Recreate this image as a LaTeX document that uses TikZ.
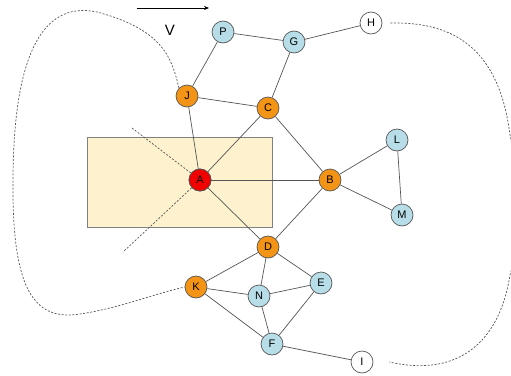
\documentclass[tikz,border=0pt]{standalone}
\usepackage{fontspec}
\setmainfont{Liberation Sans}
\usetikzlibrary{arrows.meta}
\definecolor{orng}{HTML}{F39417}
\definecolor{lblue}{HTML}{B7DEE8}
\definecolor{rred}{HTML}{F00000}
\definecolor{boxfill}{HTML}{FDF2CD}
\definecolor{edgec}{HTML}{555555}
\tikzset{
  vtx/.style={circle, draw=edgec, line width=0.7pt, minimum size=22pt, inner sep=0pt, font=\fontsize{11}{12}\selectfont},
  ora/.style={vtx, fill=orng},
  blu/.style={vtx, fill=lblue},
  red/.style={vtx, fill=rred},
  wht/.style={vtx, fill=white},
  edge/.style={draw=edgec, line width=0.7pt},
  dots/.style={draw=edgec, line width=0.7pt, dash pattern=on 2pt off 1.6pt},
}
\begin{document}
\begin{tikzpicture}[x=1pt, y=-1pt]
\useasboundingbox (0,0) rectangle (511,375);
\clip (0,0) rectangle (511,375);
% box
\node[draw=gray, line width=0.8pt, fill=boxfill, minimum width=185pt, minimum height=90pt, inner sep=0pt] (box) at (179.5,182) {};
% nodes
\node[blu] (P) at (223,32) {P};
\node[blu] (G) at (294,42) {G};
\node[wht] (H) at (371,23) {H};
\node[ora] (J) at (187,96) {J};
\node[ora] (C) at (268,108) {C};
\node[blu] (L) at (397,140) {L};
\node[red] (A) at (200,180) {A};
\node[ora] (B) at (330,180) {B};
\node[blu] (M) at (402,215) {M};
\node[ora] (D) at (268,247) {D};
\node[blu] (E) at (321,283) {E};
\node[blu] (N) at (259,296) {N};
\node[blu] (F) at (272,344) {F};
\node[wht] (I) at (362,362) {I};
\node[ora] (K) at (196,287) {K};
% edges
\foreach \a/\b in {P/G,P/J,G/H,G/C,J/C,J/A,C/A,C/B,A/B,A/D,B/L,B/M,L/M,B/D,D/K,D/N,D/E,K/N,K/F,N/E,N/F,E/F,F/I}
  \draw[edge] (\a) -- (\b);
% dotted angle through A
\coordinate (d1) at (132,128);
\coordinate (d2) at (123,252);
\draw[dots] (d1) -- (A.center) -- (d2);
\node[red] at (A) {A};
% velocity arrow
\coordinate (v1) at (137,8);
\coordinate (v2) at (209,8);
\draw[edge, -{Stealth[length=5pt,width=4pt]}, draw=black] (v1) -- (v2);
\node[font=\fontsize{15}{17}\selectfont] (V) at (170,30) {V};
% left dotted curve from J to K
\draw[dots] (J.north west) .. controls (172,60) and (165,30) .. (97,12)
  .. controls (40,0) and (12,60) .. (13,190)
  .. controls (13,300) and (40,320) .. (80,314)
  .. controls (120,308) and (150,295) .. (K.west);
% right dotted curve from H to I
\draw[dots] ([xshift=8pt]H.east) .. controls (445,22) and (498,40) .. (510,135)
  .. controls (520,180) and (520,240) .. (510,275)
  .. controls (500,340) and (460,378) .. ([xshift=16pt]I.east);
\end{tikzpicture}
\end{document}
